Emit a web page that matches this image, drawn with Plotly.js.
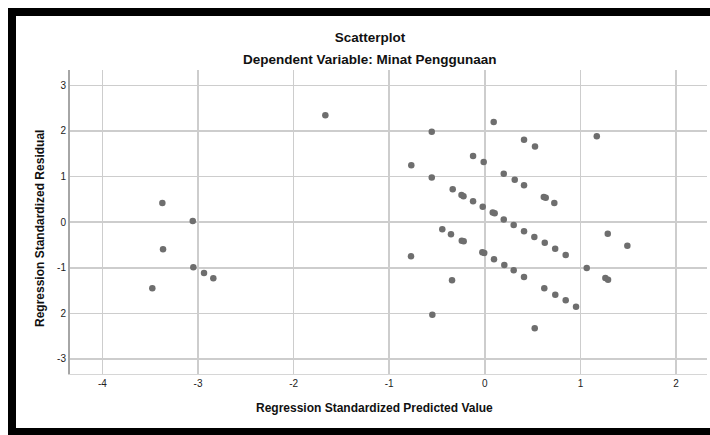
<!DOCTYPE html>
<html>
<head>
<meta charset="utf-8">
<script src="https://cdn.plot.ly/plotly-3.0.1.min.js"></script>
<style>
  html, body { margin: 0; padding: 0; background: #ffffff; }
  #chart { width: 710px; height: 435px; }
</style>
</head>
<body>
<div id="chart"></div>
<script>
// Regression Standardized Predicted Value (x) and Regression Standardized Residual (y)
const predicted = [
  -1.668, -0.555, 0.093, 0.410, 0.525, 1.171,
  -0.123, -0.012, -0.769, -0.555, 0.198, 0.313, 0.410,
  -0.336, -0.244, -0.223, -0.123, -0.022, 0.083, 0.103,
  0.198, 0.302, 0.410, 0.518, 0.627, 0.736, 0.846,
  0.617, 0.637, 0.727,
  -0.445, -0.354, -0.241, -0.221,
  1.286, 1.491,
  -0.772, -0.026, -0.006, 0.096, 0.204, 0.302, 0.410,
  1.066, -0.343, 1.261, 1.289,
  0.622, 0.737, 0.846, 0.954,
  -0.549, 0.522,
  -3.373, -3.055, -3.366, -3.049, -2.937, -2.840, -3.478
];
const residual = [
  2.342, 1.985, 2.197, 1.809, 1.662, 1.882,
  1.452, 1.320, 1.246, 0.982, 1.064, 0.932, 0.807,
  0.719, 0.596, 0.566, 0.456, 0.340, 0.210, 0.195,
  0.061, -0.061, -0.197, -0.325, -0.450, -0.581, -0.719,
  0.550, 0.538, 0.421,
  -0.154, -0.263, -0.405, -0.420,
  -0.252, -0.515,
  -0.750, -0.660, -0.678, -0.816, -0.939, -1.057, -1.202,
  -1.004, -1.276, -1.224, -1.261,
  -1.452, -1.590, -1.715, -1.853,
  -2.028, -2.329,
  0.421, 0.026, -0.596, -0.991, -1.114, -1.232, -1.452
];
const xTickVals = [-4, -3, -2, -1, 0, 1, 2];
const xTickText = ["-4", "-3", "-2", "-1", "0", "1", "2"];
const yTickVals = [-3, -2, -1, 0, 1, 2, 3];
const yTickText = ["-3", "2", "-1", "0", "1", "2", "3"];

const chartTitle = "Scatterplot";
const chartSubtitle = "Dependent Variable: Minat Penggunaan";
const xTitle = "Regression Standardized Predicted Value";
const yTitle = "Regression Standardized Residual";

const FONT = "'Liberation Sans', Arial, Helvetica, sans-serif";

const trace = {
  type: "scatter",
  mode: "markers",
  x: predicted,
  y: residual,
  marker: { color: "#6e6e6e", size: 6.5, line: { width: 0 } },
  hoverinfo: "x+y",
  showlegend: false
};

// helper: pixel -> paper coords (plot area l=70, t=70, w=637, h=304)
const L = 70, T = 70, W = 637, H = 304;
const px = v => (v - L) / W;
const py = v => (T + H - v) / H;

const layout = {
  width: 710,
  height: 435,
  margin: { l: L, r: 710 - L - W, t: T, b: 435 - T - H, pad: 0 },
  paper_bgcolor: "#ffffff",
  plot_bgcolor: "#ffffff",
  font: { family: FONT, color: "#222222", size: 10 },
  title: {
    text: chartTitle,
    xref: "container", yref: "container",
    x: 370 / 710, y: 1 - 37 / 435,
    xanchor: "center", yanchor: "middle",
    font: { family: FONT, size: 13.5, weight: "bold", color: "#111111" }
  },
  xaxis: {
    range: [-4.339, 2.324],
    tickmode: "array",
    tickvals: xTickVals,
    ticktext: xTickText,
    ticks: "",
    showgrid: true,
    gridcolor: "#cdcdcd",
    gridwidth: 1.5,
    zeroline: false,
    showline: true,
    linecolor: "#d6d6d6",
    linewidth: 1,
    tickfont: { family: FONT, size: 10, color: "#222222" },
    fixedrange: true
  },
  yaxis: {
    range: [-3.33, 3.337],
    tickmode: "array",
    tickvals: yTickVals,
    ticktext: yTickText,
    ticks: "",
    showgrid: true,
    gridcolor: "#cdcdcd",
    gridwidth: 1.5,
    zeroline: false,
    showline: true,
    linecolor: "#a6a6a6",
    linewidth: 2,
    tickfont: { family: FONT, size: 10, color: "#222222" },
    fixedrange: true
  },
  annotations: [
    {
      text: chartSubtitle, xref: "paper", yref: "paper",
      x: px(370), y: py(60), xanchor: "center", yanchor: "middle",
      showarrow: false,
      font: { family: FONT, size: 13.5, weight: "bold", color: "#111111" }
    },
    {
      text: xTitle, xref: "paper", yref: "paper",
      x: px(374.5), y: py(408), xanchor: "center", yanchor: "middle",
      showarrow: false,
      font: { family: FONT, size: 12, weight: "bold", color: "#111111" }
    },
    {
      text: yTitle, xref: "paper", yref: "paper",
      x: px(40), y: py(229), xanchor: "center", yanchor: "middle",
      textangle: -90, showarrow: false,
      font: { family: FONT, size: 12, weight: "bold", color: "#111111" }
    }
  ],
  shapes: [
    {
      type: "rect", xref: "paper", yref: "paper",
      x0: px(12), x1: px(722), y0: py(432), y1: py(12),
      line: { color: "#000000", width: 8 },
      fillcolor: "rgba(0,0,0,0)",
      layer: "above"
    }
  ]
};

Plotly.newPlot("chart", [trace], layout, { staticPlot: true, displayModeBar: false });
</script>
</body>
</html>
